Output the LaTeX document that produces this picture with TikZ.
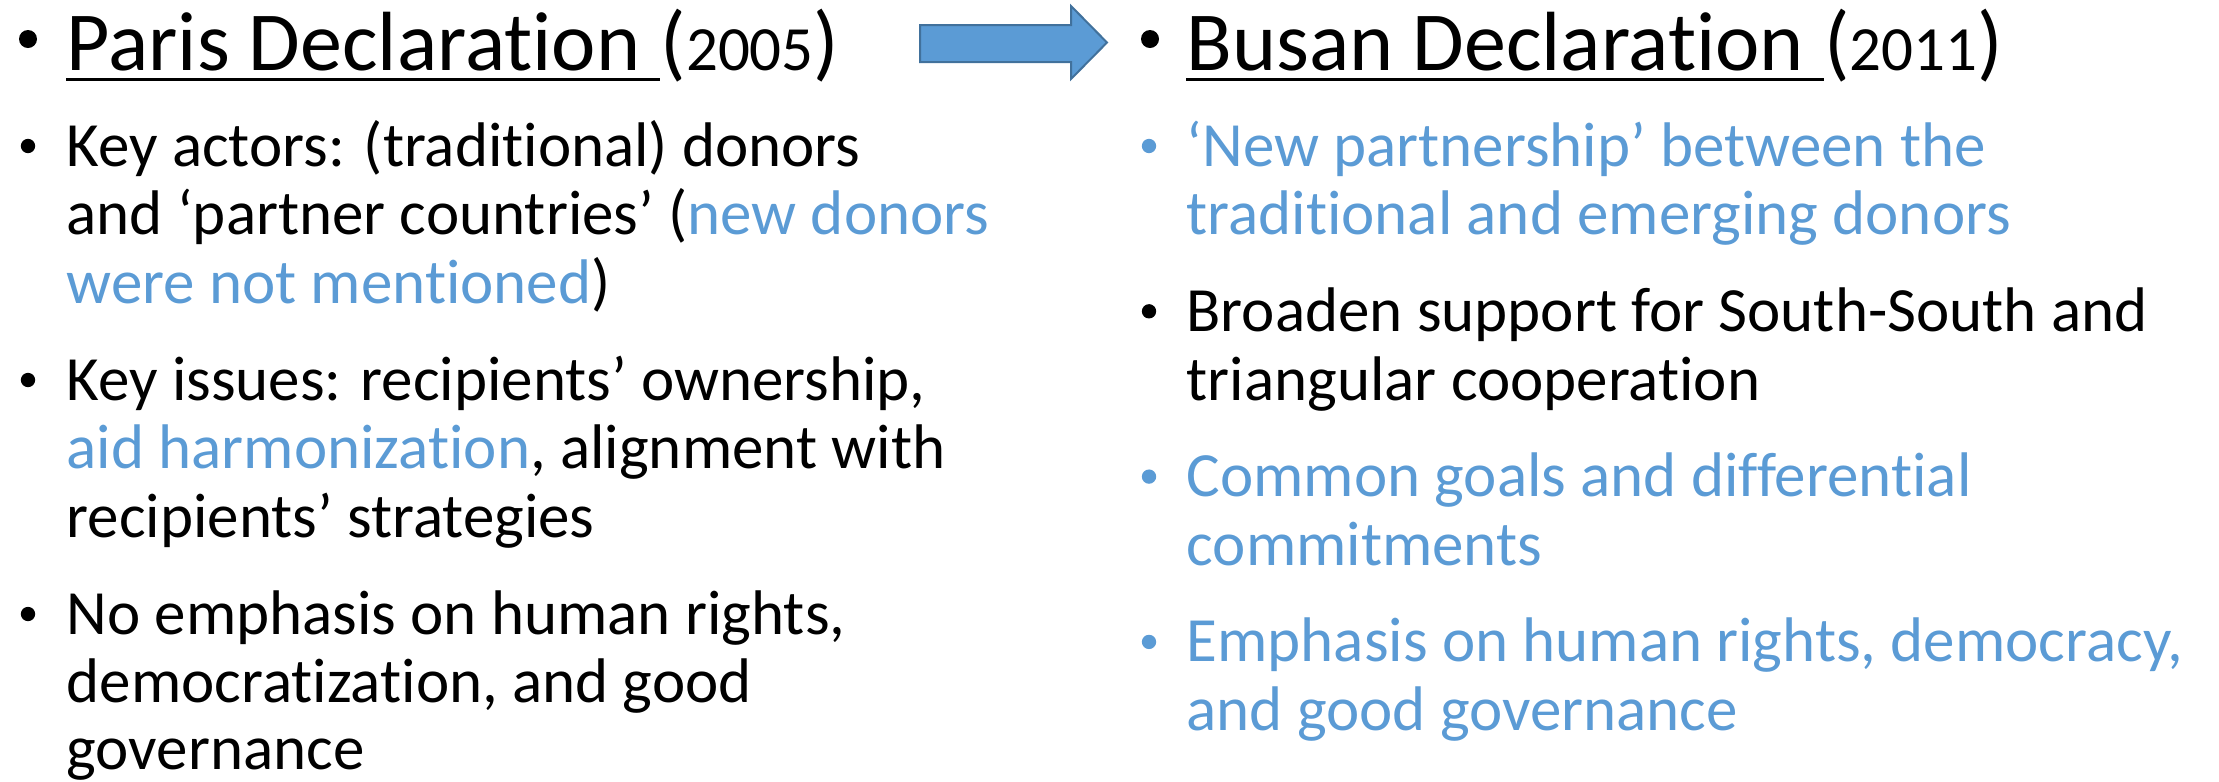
\documentclass[tikz,border=0pt]{standalone}
\usepackage{fontspec}
\setmainfont{Carlito}[Ligatures=NoCommon, Contextuals=NoAlternate]
\usetikzlibrary{positioning}
\usetikzlibrary{calc}
\definecolor{slide blue}{HTML}{5B9BD5}
\definecolor{slide blue edge}{HTML}{41719C}
\tikzset{
    % One pixel of the slide is one unit, counted downwards
    x=0.3pt, y=-0.3pt,
%
    % A line of the bullet text
    body line/.style={anchor=base west, inner sep=0,
        font=\fontsize{18.9}{20}\selectfont},
%
    % The two declaration titles
    heading line/.style={anchor=base west, inner sep=0,
        font=\fontsize{25.2}{30}\selectfont},
%
    % Round bullets, small for the list, larger for the titles
    list bullet/.style={circle, fill, inner sep=0, minimum size=4.3pt},
    heading bullet/.style={circle, fill, inner sep=0, minimum size=5.4pt},
%
    % Blue text of the slide
    blue line/.style={text=slide blue}}

\begin{document}
\begin{tikzpicture}
\useasboundingbox (0,0) rectangle (2219,781);

% Paris title with its year
\path (66,70) node[heading line] (paris title) {Paris Declaration}
    node[heading line] (paris year) at ($(paris title.base east)+(19,0)$)
        {({\fontsize{18.9}{20}\selectfont 2005})};
\node[heading bullet] (paris bullet) at ($(paris title.base west)+(-38,-31)$) {};
\draw[line width=0.9pt] ($(paris title.base west)+(0,9)$) -- ($(paris year.base west)+(0,9)$);

% Busan title with its year
\path (1186,70) node[heading line] (busan title) {Busan Declaration}
    node[heading line] (busan year) at ($(busan title.base east)+(19,0)$)
        {({\fontsize{18.9}{20}\selectfont 2011})};
\node[heading bullet] (busan bullet) at ($(busan title.base west)+(-36,-31)$) {};
\draw[line width=0.9pt] ($(busan title.base west)+(0,9)$) -- ($(busan year.base west)+(0,9)$);

% Block arrow between the two titles
\draw[line width=0.6pt, draw=slide blue edge, fill=slide blue]
    (920,25) -- (1071,25) -- (1071,6) -- (1107,42.5) -- (1071,79) -- (1071,62) -- (920,62) -- cycle;

% Paris points, one node for each printed line
\path (66,166) node[body line] (paris actors a) {Key actors: (traditional) donors}
    ++(0,68.7) node[body line] (paris actors b)
        {and ‘partner countries’ (\textcolor{slide blue}{new donors}}
    ++(0,68.7) node[body line] (paris actors c)
        {\textcolor{slide blue}{were not mentioned})}
    ++(0,96.6) node[body line] (paris issues a) {Key issues: recipients’ ownership,}
    ++(0,68.7) node[body line] (paris issues b)
        {\textcolor{slide blue}{aid harmonization}, alignment with}
    ++(0,68.7) node[body line] (paris issues c) {recipients’ strategies}
    ++(0,96.6) node[body line] (paris rights a) {No emphasis on human rights,}
    ++(0,68.7) node[body line] (paris rights b) {democratization, and good}
    ++(0,66.5) node[body line] (paris rights c) {governance};

\foreach \first in {paris actors a, paris issues a, paris rights a}
    \node[list bullet] at ($(\first.base west)+(-38,-20)$) {};

% Busan points
\path (1186,166) node[body line, blue line] (busan partners a) {‘New partnership’ between the}
    ++(0,68.7) node[body line, blue line] (busan partners b) {traditional and emerging donors}
    ++(0,96.6) node[body line] (busan support a) {Broaden support for South-South and}
    ++(0,68.7) node[body line] (busan support b) {triangular cooperation}
    ++(0,96.6) node[body line, blue line] (busan goals a) {Common goals and differential}
    ++(0,68.7) node[body line, blue line] (busan goals b) {commitments}
    ++(0,96.6) node[body line, blue line] (busan rights a) {Emphasis on human rights, democracy,}
    ++(0,68.7) node[body line, blue line] (busan rights b) {and good governance};

\node[list bullet, slide blue] at ($(busan partners a.base west)+(-37,-20)$) {};
\node[list bullet] at ($(busan support a.base west)+(-37,-20)$) {};
\node[list bullet, slide blue] at ($(busan goals a.base west)+(-37,-20)$) {};
\node[list bullet, slide blue] at ($(busan rights a.base west)+(-37,-20)$) {};

\end{tikzpicture}
\end{document}
